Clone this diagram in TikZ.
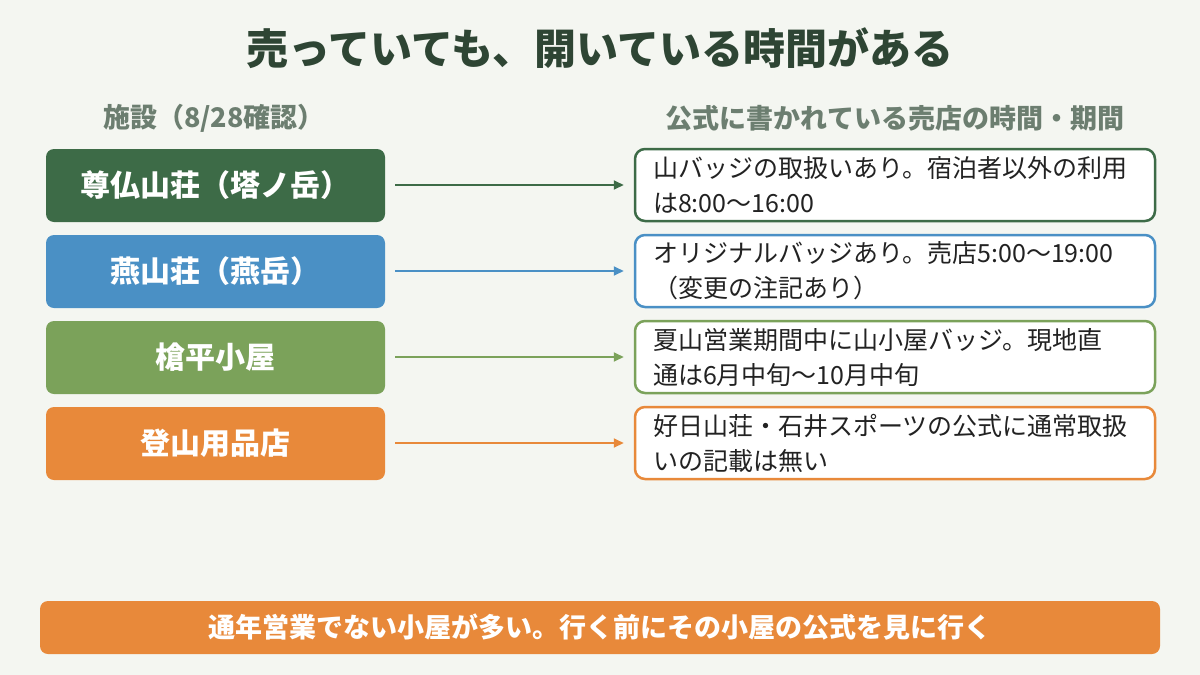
\documentclass[tikz,border=0pt]{standalone}
\usepackage{fontspec}
\setmainfont{Noto Sans CJK JP}
\usetikzlibrary{arrows.meta}
\definecolor{bg}{HTML}{F4F6F1}
\definecolor{cdg}{HTML}{3D6B47}
\definecolor{cbl}{HTML}{4A90C5}
\definecolor{clg}{HTML}{7BA25A}
\definecolor{cor}{HTML}{E8893A}
\definecolor{ctitle}{HTML}{2E4534}
\definecolor{chead}{HTML}{6C7E70}
\definecolor{ctext}{HTML}{222222}
\tikzset{
  leftbox/.style={fill=#1, draw=none, rounded corners=8pt, minimum width=339pt, minimum height=73pt,
    text=white, font=\fontsize{30}{34}\selectfont\bfseries},
  rightbox/.style={fill=white, draw=#1, line width=2.5pt, rounded corners=10pt, minimum width=520pt,
    minimum height=72pt, text width=484pt, align=left, inner xsep=18pt, text=ctext,
    font=\fontsize{25}{35}\selectfont},
  arr/.style={draw=#1, line width=2pt, -{Triangle[length=10pt,width=9pt]}, shorten <=10pt, shorten >=10pt},
  headtxt/.style={text=chead, font=\fontsize{27}{30}\selectfont\bfseries}
}
\begin{document}
\begin{tikzpicture}[x=1pt,y=-1pt]
\path[fill=bg] (0,0) rectangle (1200,675);
\useasboundingbox (0,0) rectangle (1200,675);
\node[text=ctitle, font=\fontsize{42}{46}\selectfont\bfseries] (title) at (600,48) {売っていても、開いている時間がある};
\node[headtxt] (hl) at (214,118) {施設（8/28確認）};
\node[headtxt] (hr) at (895,118) {公式に書かれている売店の時間・期間};

\node[leftbox=cdg] (l1) at (215.5,185.5) {尊仏山荘（塔ノ岳）};
\node[leftbox=cbl] (l2) at (215.5,271.5) {燕山荘（燕岳）};
\node[leftbox=clg] (l3) at (215.5,357.5) {槍平小屋};
\node[leftbox=cor] (l4) at (215.5,443.5) {登山用品店};

\node[rightbox=cdg] (r1) at (895,185) {山バッジの取扱いあり。宿泊者以外の利用\\は8:00〜16:00};
\node[rightbox=cbl] (r2) at (895,271) {オリジナルバッジあり。売店5:00〜19:00\\（変更の注記あり）};
\node[rightbox=clg] (r3) at (895,357) {夏山営業期間中に山小屋バッジ。現地直\\通は6月中旬〜10月中旬};
\node[rightbox=cor] (r4) at (895,443) {好日山荘・石井スポーツの公式に通常取扱\\いの記載は無い};

\draw[arr=cdg] (l1.east |- r1.west) -- (r1.west);
\draw[arr=cbl] (l2.east |- r2.west) -- (r2.west);
\draw[arr=clg] (l3.east |- r3.west) -- (r3.west);
\draw[arr=cor] (l4.east |- r4.west) -- (r4.west);

\node[fill=cor, rounded corners=8pt, minimum width=1120pt, minimum height=53pt, text=white,
  font=\fontsize{27}{30}\selectfont\bfseries] (bar) at (600,627.5) {通年営業でない小屋が多い。行く前にその小屋の公式を見に行く};
\end{tikzpicture}
\end{document}
